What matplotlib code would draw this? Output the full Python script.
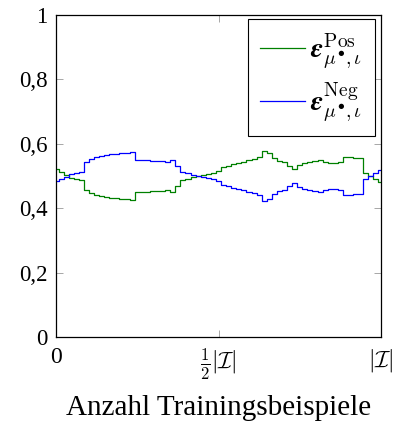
import numpy as np
import matplotlib
matplotlib.use('Agg')
import matplotlib.pyplot as plt

plt.rcParams['font.family'] = ['Liberation Serif', 'DejaVu Serif']
plt.rcParams['mathtext.fontset'] = 'cm'

# Anteil positiver/negativer Beispiele ueber die Trainingsmenge (x in Einheiten von |I|)
anteil_x = np.linspace(0, 1, 65)
eps_pos = [0.521, 0.512, 0.503, 0.493, 0.491, 0.488, 0.458, 0.447, 0.442, 0.438,
           0.435, 0.433, 0.431, 0.430, 0.428, 0.426, 0.449, 0.451, 0.450, 0.452,
           0.454, 0.452, 0.455, 0.451, 0.470, 0.487, 0.490, 0.497, 0.500, 0.503,
           0.507, 0.510, 0.515, 0.527, 0.530, 0.536, 0.540, 0.543, 0.550, 0.553,
           0.558, 0.579, 0.570, 0.556, 0.548, 0.545, 0.532, 0.523, 0.535, 0.540,
           0.545, 0.548, 0.551, 0.545, 0.540, 0.541, 0.543, 0.558, 0.560, 0.557,
           0.556, 0.508, 0.500, 0.490, 0.481]
eps_neg = [0.484, 0.490, 0.497, 0.507, 0.509, 0.512, 0.542, 0.553, 0.558, 0.562,
           0.565, 0.567, 0.569, 0.570, 0.572, 0.574, 0.551, 0.549, 0.550, 0.548,
           0.546, 0.548, 0.545, 0.549, 0.530, 0.513, 0.510, 0.503, 0.500, 0.497,
           0.493, 0.490, 0.485, 0.473, 0.470, 0.464, 0.460, 0.457, 0.450, 0.447,
           0.442, 0.421, 0.430, 0.444, 0.452, 0.455, 0.468, 0.477, 0.465, 0.460,
           0.455, 0.452, 0.449, 0.455, 0.460, 0.459, 0.457, 0.442, 0.440, 0.443,
           0.444, 0.492, 0.500, 0.510, 0.519]

y_ticks = [0, 0.2, 0.4, 0.6, 0.8, 1]
y_ticklabels = ['0', '0,2', '0,4', '0,6', '0,8', '1']
x_ticks = [0, 0.5, 1]
x_ticklabels = ['0', r'$\frac{1}{2}|\mathcal{I}|$', r'$|\mathcal{I}|$']

fig = plt.figure(figsize=(3.95, 4.26), dpi=100)
ax = fig.add_axes([56/395, 1 - 337/426, 325/395, 322/426])

gruen = (0, 0.5, 0)
blau = (0, 0, 1)
ax.plot(anteil_x, eps_pos, color=gruen, lw=0.9, drawstyle='steps-mid',
        label=r'$\boldsymbol{\epsilon}^{\mathrm{Pos}}_{\mu^{\bullet},\iota}$')
ax.plot(anteil_x, eps_neg, color=blau, lw=0.9, drawstyle='steps-mid',
        label=r'$\boldsymbol{\epsilon}^{\mathrm{Neg}}_{\mu^{\bullet},\iota}$')

ax.set_xlim(0, 1)
ax.set_ylim(0, 1)
ax.set_yticks(y_ticks)
ax.set_yticklabels(y_ticklabels, fontsize=16.5)
ax.set_xticks(x_ticks)
ax.set_xticklabels(x_ticklabels, fontsize=17)
ax.tick_params(direction='in', length=5, width=0.6, color='0.6',
               top=True, right=True, pad=6)
ax.tick_params(axis='x', pad=7)
for s in ax.spines.values():
    s.set_linewidth(0.9)

ax.set_xlabel('Anzahl Trainingsbeispiele', fontsize=21, labelpad=9)

leg = ax.legend(loc='upper right', bbox_to_anchor=(0.982, 0.988), fontsize=20,
                fancybox=False, edgecolor='black', framealpha=1,
                handlelength=1.6, handletextpad=0.2, borderpad=0.45,
                labelspacing=0.35, borderaxespad=0)
leg.get_frame().set_linewidth(0.8)

fig.savefig('out.png', dpi=100)
